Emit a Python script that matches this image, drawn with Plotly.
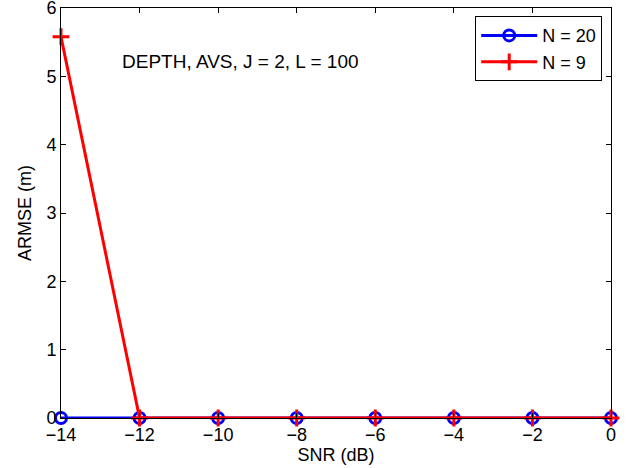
import plotly.graph_objects as go

snr = [-14, -12, -10, -8, -6, -4, -2, 0]
armse_n20 = [0, 0, 0, 0, 0, 0, 0, 0]
armse_n9 = [5.58, 0, 0, 0, 0, 0, 0, 0]
x_ticks = [-14, -12, -10, -8, -6, -4, -2, 0]
x_tick_text = ["\u221214", "\u221212", "\u221210", "\u22128", "\u22126", "\u22124", "\u22122", "0"]
y_ticks = [0, 1, 2, 3, 4, 5, 6]

FONT = "Liberation Sans, Arial, sans-serif"

fig = go.Figure()
fig.add_trace(go.Scatter(
    x=snr, y=armse_n20, mode="lines+markers", name="N = 20",
    line=dict(color="#0000ff", width=3),
    marker=dict(symbol="circle-open", size=11, color="#0000ff", line=dict(width=3)),
    cliponaxis=False,
))
fig.add_trace(go.Scatter(
    x=snr, y=armse_n9, mode="lines+markers", name="N = 9",
    line=dict(color="#ff0000", width=3),
    marker=dict(symbol="cross-thin-open", size=12, color="#ff0000", line=dict(width=3, color="#ff0000")),
    cliponaxis=False,
))

fig.add_annotation(
    x=-12.5, y=5.21, xref="x", yref="y", text="DEPTH, AVS, J = 2, L = 100",
    showarrow=False, xanchor="left", yanchor="middle",
    font=dict(size=19, color="black", family=FONT),
)

axis_common = dict(
    showgrid=False, zeroline=False, showline=True, linecolor="black", linewidth=1,
    mirror="ticks", ticks="inside", ticklen=5, tickcolor="black",
    tickfont=dict(size=18, color="black", family=FONT),
    ticklabeloverflow="allow",
)

fig.update_layout(
    width=638, height=468,
    margin=dict(l=61, r=27, t=8, b=50),
    paper_bgcolor="white", plot_bgcolor="white",
    font=dict(family=FONT, color="black"),
    xaxis=dict(range=[-14, 0], tickvals=x_ticks, ticktext=x_tick_text, automargin=False,
               title=dict(text="SNR (dB)", font=dict(size=18), standoff=0), **axis_common),
    yaxis=dict(range=[0, 6], tickvals=y_ticks, automargin=False,
               title=dict(text="ARMSE (m)", font=dict(size=18), standoff=10), **axis_common),
    legend=dict(x=0.984, y=0.98, xanchor="right", yanchor="top",
                bordercolor="black", borderwidth=1, bgcolor="white",
                font=dict(size=18, color="black"), tracegroupgap=0,
                itemwidth=56),
    showlegend=True,
)

fig.write_html("out.html")
